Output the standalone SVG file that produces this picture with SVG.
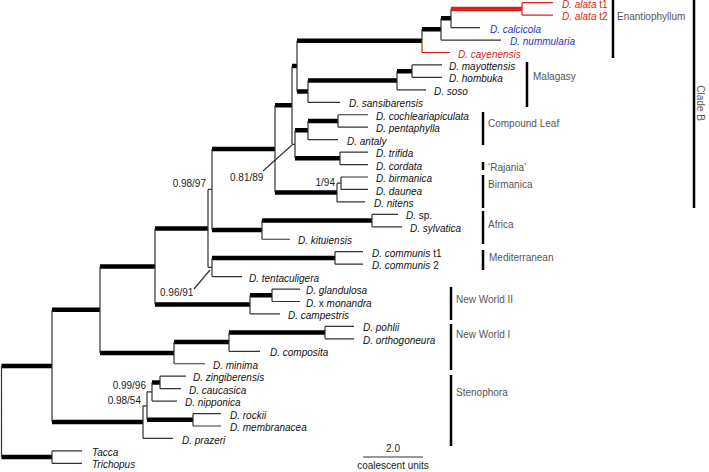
<svg xmlns="http://www.w3.org/2000/svg" width="709" height="472" viewBox="0 0 709 472">
<style>
.t{font-family:"Liberation Sans",Arial,sans-serif;font-size:10px;font-style:italic;fill:#111}
.u{font-style:normal}
.r{fill:#dc1f1a}
.b{fill:#2535c2}
.c{font-family:"Liberation Sans",Arial,sans-serif;font-size:10px;fill:#555}
.s{font-family:"Liberation Sans",Arial,sans-serif;font-size:10px;fill:#222}
.th{stroke:#000;stroke-width:4.5;fill:none}
.tn{stroke:#333;stroke-width:1.2;fill:none}
.rth{stroke:#dc1f1a;stroke-width:4.5;fill:none}
.rtn{stroke:#dc1f1a;stroke-width:1.2;fill:none}
.bar{stroke:#000;stroke-width:2.5}
</style>
<rect width="709" height="472" fill="#fff"/>
<g id="connectors">
<path class="th" d="M1.5 365.9H52M1.5 457.1H52M52 309.7H100M52 422.1H143M100 266.5H155M100 352.9H174M174 342H229M229 332.6H325M155 228.4H208M155 304.6H250M250 295.3H272M212 257.9H335M212 148.9H275M212 229.9H262M262 220.6H372M275 105.2H292M275 192.6H337M292 66.1H297M295 130.3H308M295 158.3H340M308 121H338M297 40.8H422M297 91.4H308M308 80.5H397M397 71.2H412M422 29.2H441M441 18.3H451M152 382.4H160M147 419.8H193"/>
<path class="tn" d="M1.5 365.9V457.1M52 450.9V463.35M52 309.7V422.1M100 266.5V352.9M174 342V363.75M229 332.6V351.3M325 326.4V338.85M155 228.4V304.6M250 295.3V313.95M272 289.05V301.5M208 189.4V267.3M212 257.9V276.6M335 251.7V264.15M212 148.9V229.9M262 220.6V239.25M372 214.35V226.8M275 105.2V192.6M337 183.2V201.9M341 177V189.45M292 66.1V144.3M295 130.3V158.3M308 121V139.65M338 114.75V127.2M340 152.1V164.55M297 40.8V91.4M308 80.5V102.3M397 71.2V89.85M412 64.95V77.4M422 29.2V40.8M441 18.3V40.05M451 8.9V27.6M143 405.8V438.45M147 391.8V419.8M152 382.4V401.1M160 376.2V388.65M193 413.55V426"/>
<path class="tn" d="M52 450.9H82M52 463.35H82M174 363.75H205M229 351.3H260M325 326.4H354M325 338.85H354M250 313.95H280M272 289.05H300M272 301.5H300M208 189.4H212M208 267.3H212M212 276.6H242M335 251.7H363M335 264.15H363M262 239.25H290M372 214.35H398M372 226.8H402M337 183.2H341M341 177H368M341 189.45H368M337 201.9H365M292 144.3H295M308 139.65H338M338 114.75H368M338 127.2H368M340 152.1H368M340 164.55H368M308 102.3H340M397 89.85H426M412 64.95H442M412 77.4H442M441 40.05H501M451 27.6H480M143 405.8H147M147 391.8H152M152 401.1H177M160 376.2H186M160 388.65H181M193 413.55H221M193 426H221M143 438.45H173"/>
<path class="rth" d="M451 8.9H522"/>
<path class="rtn" d="M522 2.7V15.15M522 2.7H553M522 15.15H553M422 40.8V52.5M422 52.5H450"/>
<path class="tn" d="M263 171L292 145M194 289L210 270"/>
</g>
<g id="tips">
<g id="tip-alata-t1"><text class="t r" x="562" y="7.7">D. alata <tspan class="u">t1</tspan></text></g>
<g id="tip-alata-t2"><text class="t r" x="562" y="20.2">D. alata <tspan class="u">t2</tspan></text></g>
<g id="tip-calcicola"><text class="t b" x="490" y="32.6">D. calcicola</text></g>
<g id="tip-nummularia"><text class="t b" x="510" y="45">D. nummularia</text></g>
<g id="tip-cayenensis"><text class="t r" x="458" y="57.5">D. cayenensis</text></g>
<g id="tip-mayottensis"><text class="t" x="449" y="70">D. mayottensis</text></g>
<g id="tip-hombuka"><text class="t" x="449" y="82.4">D. hombuka</text></g>
<g id="tip-soso"><text class="t" x="434" y="94.9">D. soso</text></g>
<g id="tip-sansibarensis"><text class="t" x="349" y="107.3">D. sansibarensis</text></g>
<g id="tip-cochleariapiculata"><text class="t" x="376" y="119.8">D. cochleariapiculata</text></g>
<g id="tip-pentaphylla"><text class="t" x="376" y="132.2">D. pentaphylla</text></g>
<g id="tip-antaly"><text class="t" x="347" y="144.7">D. antaly</text></g>
<g id="tip-trifida"><text class="t" x="376" y="157.1">D. trifida</text></g>
<g id="tip-cordata"><text class="t" x="376" y="169.6">D. cordata</text></g>
<g id="tip-birmanica"><text class="t" x="376" y="182">D. birmanica</text></g>
<g id="tip-daunea"><text class="t" x="376" y="194.5">D. daunea</text></g>
<g id="tip-nitens"><text class="t" x="374" y="206.9">D. nitens</text></g>
<g id="tip-sp"><text class="t" x="406" y="219.4">D. <tspan class="u">sp.</tspan></text></g>
<g id="tip-sylvatica"><text class="t" x="410" y="231.8">D. sylvatica</text></g>
<g id="tip-kituiensis"><text class="t" x="298" y="244.3">D. kituiensis</text></g>
<g id="tip-communis-t1"><text class="t" x="372" y="256.7">D. communis <tspan class="u">t1</tspan></text></g>
<g id="tip-communis-2"><text class="t" x="372" y="269.2">D. communis <tspan class="u">2</tspan></text></g>
<g id="tip-tentaculigera"><text class="t" x="249" y="281.6">D. tentaculigera</text></g>
<g id="tip-glandulosa"><text class="t" x="306" y="294.1">D. glandulosa</text></g>
<g id="tip-monandra"><text class="t" x="306" y="306.5">D. <tspan class="u">x</tspan> monandra</text></g>
<g id="tip-campestris"><text class="t" x="288" y="319">D. campestris</text></g>
<g id="tip-pohlii"><text class="t" x="363" y="331.4">D. pohlii</text></g>
<g id="tip-orthogoneura"><text class="t" x="363" y="343.9">D. orthogoneura</text></g>
<g id="tip-composita"><text class="t" x="270" y="356.3">D. composita</text></g>
<g id="tip-minima"><text class="t" x="213" y="368.8">D. minima</text></g>
<g id="tip-zingiberensis"><text class="t" x="193" y="381.2">D. zingiberensis</text></g>
<g id="tip-caucasica"><text class="t" x="189" y="393.7">D. caucasica</text></g>
<g id="tip-nipponica"><text class="t" x="185" y="406.1">D. nipponica</text></g>
<g id="tip-rockii"><text class="t" x="230" y="418.6">D. rockii</text></g>
<g id="tip-membranacea"><text class="t" x="230" y="431">D. membranacea</text></g>
<g id="tip-prazeri"><text class="t" x="182" y="443.5">D. prazeri</text></g>
<g id="tip-tacca"><text class="t" x="92" y="455.9">Tacca</text></g>
<g id="tip-trichopus"><text class="t" x="92" y="468.4">Trichopus</text></g>
</g>
<g id="support">
<text class="s" x="206" y="187" text-anchor="end">0.98/97</text>
<text class="s" x="230" y="181">0.81/89</text>
<text class="s" x="335" y="186" text-anchor="end">1/94</text>
<text class="s" x="160" y="296">0.96/91</text>
<text class="s" x="146" y="389" text-anchor="end">0.99/96</text>
<text class="s" x="141" y="404" text-anchor="end">0.98/54</text>
</g>
<g id="clades">
<g id="clade-enantiophyllum"><line class="bar" x1="613" y1="0" x2="613" y2="58"/><text class="c" x="617" y="19.5">Enantiophyllum</text></g>
<g id="clade-malagasy"><line class="bar" x1="527" y1="62" x2="527" y2="107"/><text class="c" x="533" y="80">Malagasy</text></g>
<g id="clade-compound"><line class="bar" x1="483" y1="112" x2="483" y2="145"/><text class="c" x="488" y="126.5">Compound Leaf</text></g>
<g id="clade-rajania"><line class="bar" x1="483" y1="162" x2="483" y2="170"/><text class="c" x="488" y="170.5">‘Rajania’</text></g>
<g id="clade-birmanica"><line class="bar" x1="483" y1="175" x2="483" y2="208"/><text class="c" x="488" y="188">Birmanica</text></g>
<g id="clade-africa"><line class="bar" x1="483" y1="211" x2="483" y2="244"/><text class="c" x="488" y="228">Africa</text></g>
<g id="clade-mediterranean"><line class="bar" x1="483" y1="250" x2="483" y2="270"/><text class="c" x="489" y="261">Mediterranean</text></g>
<g id="clade-nw2"><line class="bar" x1="451" y1="287" x2="451" y2="320"/><text class="c" x="456" y="303">New World II</text></g>
<g id="clade-nw1"><line class="bar" x1="451" y1="324" x2="451" y2="370"/><text class="c" x="456" y="338">New World I</text></g>
<g id="clade-stenophora"><line class="bar" x1="451" y1="375" x2="451" y2="446"/><text class="c" x="456" y="396">Stenophora</text></g>
<g id="clade-b"><line class="bar" x1="694" y1="0" x2="694" y2="208"/><text class="c" x="0" y="0" font-size="14" text-anchor="middle" transform="translate(697 103) rotate(90)">Clade B</text></g>
</g>
<g id="scale">
<line class="tn" x1="363" y1="457" x2="423" y2="457"/>
<text class="s" x="393" y="452" text-anchor="middle">2.0</text>
<text class="s" x="393" y="469" text-anchor="middle">coalescent units</text>
</g>
</svg>
